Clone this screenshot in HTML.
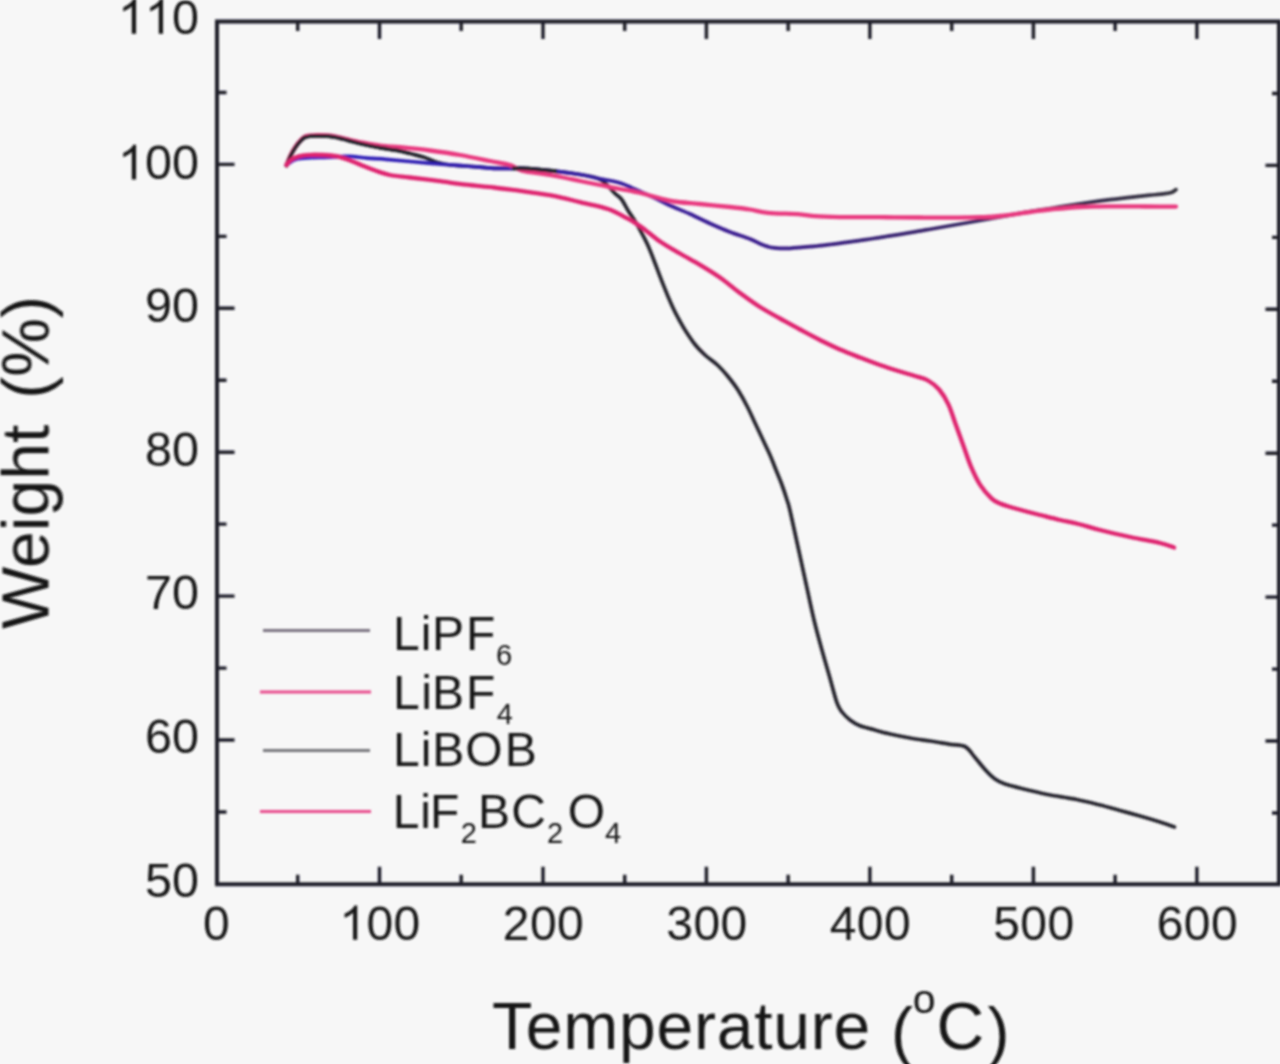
<!DOCTYPE html>
<html><head><meta charset="utf-8"><title>TGA</title>
<style>html,body{margin:0;padding:0;background:#f7f7f7;width:1280px;height:1064px;overflow:hidden}svg{display:block}text{font-family:"Liberation Sans",sans-serif}</style>
</head><body>
<svg width="1280" height="1064" viewBox="0 0 1280 1064">
<rect width="1280" height="1064" fill="#f7f7f7"/>
<filter id="soft" filterUnits="userSpaceOnUse" x="-20" y="-20" width="1320" height="1104"><feGaussianBlur stdDeviation="1.0"/></filter>
<g filter="url(#soft)">
<defs><linearGradient id="gb" gradientUnits="userSpaceOnUse" x1="286" y1="0" x2="1176" y2="0"><stop offset="0" stop-color="#2a1fc0"/><stop offset="0.5" stop-color="#3a1a90"/><stop offset="1" stop-color="#33303a"/></linearGradient><clipPath id="cpa"><rect x="280" y="100" width="130" height="80"/><rect x="512" y="150" width="45" height="40"/></clipPath></defs>
<g fill="none" stroke-width="3.7" stroke-linejoin="round" stroke-linecap="round">
<path d="M286.5,165.5 C287.2,163.8 289.4,158.2 291.0,155.0 C292.6,151.8 294.4,148.8 296.0,146.5 C297.6,144.2 299.1,142.5 300.5,141.0 C301.9,139.5 302.9,138.3 304.5,137.5 C306.1,136.7 307.8,136.5 310.0,136.2 C312.2,135.9 314.2,135.9 317.5,135.9 C320.8,135.9 326.4,135.9 330.0,136.3 C333.6,136.7 336.3,137.4 339.4,138.1 C342.5,138.8 345.1,139.7 348.8,140.6 C352.4,141.5 356.8,142.7 361.0,143.7 C365.2,144.7 369.2,145.6 373.8,146.5 C378.2,147.4 383.6,148.2 388.0,149.0 C392.4,149.8 396.0,150.2 400.0,151.0 C404.0,151.8 408.0,153.0 412.0,154.0 C416.0,155.0 420.0,155.9 424.0,157.2 C428.0,158.5 431.7,160.7 436.0,162.0 C440.3,163.3 445.0,164.3 450.0,165.0 C455.0,165.7 458.7,165.4 466.0,166.0 C473.3,166.6 484.7,167.9 494.0,168.3 C503.3,168.7 512.7,168.0 522.0,168.4 C531.3,168.8 540.3,169.6 550.0,170.6 C559.7,171.6 572.0,173.2 580.0,174.5 C588.0,175.8 593.7,176.9 598.0,178.5 C602.3,180.1 603.2,181.5 606.0,184.0 C608.8,186.5 612.5,191.0 615.0,193.5 C617.5,196.0 619.0,196.0 621.3,199.0 C623.6,202.0 626.2,207.6 628.6,211.4 C631.0,215.2 633.2,218.0 635.4,221.6 C637.6,225.2 639.4,228.8 641.6,232.9 C643.8,237.0 646.4,241.9 648.4,246.4 C650.4,250.9 651.3,253.6 653.8,260.0 C656.3,266.4 660.1,276.8 663.2,284.6 C666.3,292.5 670.0,301.3 672.6,307.1 C675.2,312.9 676.9,315.7 679.0,319.5 C681.1,323.3 682.3,325.8 685.0,330.0 C687.7,334.2 691.7,340.3 695.0,344.5 C698.3,348.7 701.2,351.5 705.0,355.0 C708.8,358.5 714.2,361.9 718.0,365.5 C721.8,369.1 724.7,372.4 728.0,376.5 C731.3,380.6 734.8,384.9 738.0,390.0 C741.2,395.1 744.6,401.3 747.5,407.0 C750.4,412.7 752.9,418.5 755.5,424.0 C758.1,429.5 760.6,434.8 763.0,440.0 C765.4,445.2 767.8,450.0 770.0,455.0 C772.2,460.0 774.0,465.0 776.0,470.0 C778.0,475.0 780.2,480.0 782.0,485.0 C783.8,490.0 785.5,495.0 787.0,500.0 C788.5,505.0 787.7,500.3 791.0,515.0 C794.3,529.7 803.1,570.4 807.0,588.2 C810.9,606.0 812.0,611.7 814.5,622.0 C817.0,632.3 819.5,641.1 822.0,650.2 C824.5,659.3 827.0,667.7 829.5,676.5 C832.0,685.3 834.9,697.0 837.0,702.9 C839.1,708.8 839.8,709.1 842.0,712.0 C844.2,714.9 847.0,717.7 850.0,720.0 C853.0,722.3 855.8,724.1 860.0,725.8 C864.2,727.5 870.0,728.6 875.0,730.0 C880.0,731.4 884.2,732.7 890.0,734.0 C895.8,735.3 903.3,736.8 910.0,738.0 C916.7,739.2 923.3,740.0 930.0,741.0 C936.7,742.0 944.2,743.4 950.0,744.3 C955.8,745.2 960.8,744.3 965.0,746.5 C969.2,748.7 971.7,753.7 975.0,757.5 C978.3,761.3 981.7,765.9 985.0,769.5 C988.3,773.1 991.7,776.6 995.0,779.0 C998.3,781.4 1000.8,782.5 1005.0,784.0 C1009.2,785.5 1014.5,786.6 1020.0,788.0 C1025.5,789.4 1032.7,791.1 1037.7,792.3 C1042.7,793.5 1043.5,793.8 1050.0,795.0 C1056.5,796.2 1068.4,797.8 1076.7,799.5 C1085.0,801.2 1092.8,803.2 1100.0,805.0 C1107.2,806.8 1113.3,808.7 1120.0,810.5 C1126.7,812.3 1133.3,814.1 1140.0,816.0 C1146.7,817.9 1154.3,820.2 1160.0,822.0 C1165.7,823.8 1172.0,826.2 1174.4,827.0" stroke="#24202c"/>
<path d="M286.5,165.0 C287.4,164.3 290.1,162.0 292.0,161.0 C293.9,160.0 294.8,159.4 298.0,158.8 C301.2,158.2 306.7,157.8 311.0,157.6 C315.3,157.4 319.8,157.5 324.0,157.4 C328.2,157.3 331.8,157.2 336.0,157.0 C340.2,156.8 343.8,156.1 349.0,156.3 C354.2,156.5 361.3,157.6 367.5,158.1 C373.7,158.6 378.9,158.7 386.0,159.3 C393.1,159.9 401.3,160.7 410.0,161.5 C418.7,162.3 428.7,163.2 438.0,164.0 C447.3,164.8 456.7,165.3 466.0,166.0 C475.3,166.7 484.7,167.9 494.0,168.3 C503.3,168.7 512.7,168.0 522.0,168.4 C531.3,168.8 540.3,169.6 550.0,170.6 C559.7,171.6 571.7,173.1 580.0,174.5 C588.3,175.9 593.3,177.4 600.0,178.8 C606.7,180.2 613.3,180.9 620.0,183.0 C626.7,185.1 634.2,189.0 640.0,191.5 C645.8,194.0 650.0,195.7 655.0,198.0 C660.0,200.3 664.2,202.8 670.0,205.5 C675.8,208.2 683.3,211.0 690.0,214.0 C696.7,217.0 703.3,220.5 710.0,223.5 C716.7,226.5 723.3,229.4 730.0,232.0 C736.7,234.6 745.0,237.0 750.0,239.0 C755.0,241.0 756.7,242.4 760.0,243.8 C763.3,245.2 766.7,246.4 770.0,247.2 C773.3,247.9 776.7,248.1 780.0,248.3 C783.3,248.5 785.0,248.6 790.0,248.3 C795.0,248.0 803.3,247.3 810.0,246.7 C816.7,246.1 823.3,245.3 830.0,244.5 C836.7,243.7 843.3,242.8 850.0,241.9 C856.7,241.0 863.3,240.0 870.0,239.0 C876.7,238.0 883.3,237.0 890.0,235.9 C896.7,234.8 903.3,233.8 910.0,232.7 C916.7,231.6 923.3,230.4 930.0,229.2 C936.7,228.0 943.3,226.9 950.0,225.7 C956.7,224.5 963.3,223.4 970.0,222.2 C976.7,221.0 983.3,219.8 990.0,218.6 C996.7,217.4 1003.3,216.3 1010.0,215.1 C1016.7,213.9 1023.3,212.7 1030.0,211.6 C1036.7,210.5 1043.3,209.5 1050.0,208.5 C1056.7,207.5 1063.3,206.4 1070.0,205.4 C1076.7,204.4 1083.3,203.4 1090.0,202.4 C1096.7,201.4 1103.3,200.5 1110.0,199.7 C1116.7,198.8 1123.3,198.1 1130.0,197.3 C1136.7,196.6 1144.2,195.8 1150.0,195.2 C1155.8,194.6 1161.3,194.1 1165.0,193.6 C1168.7,193.1 1170.2,192.9 1172.0,192.2 C1173.8,191.5 1175.3,190.0 1176.0,189.6" stroke="url(#gb)"/>
<path d="M286.5,165.0 C287.2,163.2 289.4,157.7 291.0,154.5 C292.6,151.3 294.4,148.3 296.0,146.0 C297.6,143.7 299.1,142.0 300.5,140.5 C301.9,139.0 302.9,137.6 304.5,136.8 C306.1,136.0 307.8,135.9 310.0,135.6 C312.2,135.3 314.2,135.2 317.5,135.2 C320.8,135.2 326.4,135.2 330.0,135.6 C333.6,136.0 336.3,136.7 339.4,137.4 C342.5,138.1 345.1,138.9 348.8,139.7 C352.4,140.5 356.8,141.5 361.0,142.3 C365.2,143.1 369.2,143.9 373.8,144.6 C378.2,145.3 383.6,145.9 388.0,146.3 C392.4,146.7 393.0,146.5 400.0,147.2 C407.0,147.9 420.0,149.2 430.0,150.5 C440.0,151.8 450.0,153.2 460.0,155.0 C470.0,156.8 481.7,159.3 490.0,161.0 C498.3,162.7 504.7,163.4 510.0,165.0 C515.3,166.6 515.3,168.9 522.0,170.6 C528.7,172.3 540.3,173.3 550.0,175.0 C559.7,176.7 571.7,179.3 580.0,181.0 C588.3,182.7 593.3,183.7 600.0,185.0 C606.7,186.3 613.6,187.8 620.0,189.0 C626.4,190.2 631.4,190.9 638.2,192.5 C645.0,194.1 654.8,197.0 660.8,198.5 C666.8,200.0 667.5,200.6 674.0,201.5 C680.5,202.4 690.7,203.1 700.0,204.0 C709.3,204.9 721.7,206.1 730.0,207.0 C738.3,207.9 743.7,208.5 750.0,209.5 C756.3,210.5 759.7,212.0 768.0,212.8 C776.3,213.6 792.2,213.7 800.0,214.3 C807.8,214.9 808.3,215.7 815.0,216.2 C821.7,216.7 829.2,216.9 840.0,217.1 C850.8,217.3 866.7,217.1 880.0,217.2 C893.3,217.3 908.3,217.4 920.0,217.5 C931.7,217.6 940.0,217.7 950.0,217.6 C960.0,217.5 971.7,217.5 980.0,217.2 C988.3,216.9 991.7,216.9 1000.0,216.0 C1008.3,215.1 1021.7,213.1 1030.0,212.0 C1038.3,210.9 1041.7,210.3 1050.0,209.5 C1058.3,208.7 1070.0,207.5 1080.0,207.0 C1090.0,206.5 1101.5,206.4 1110.0,206.3 C1118.5,206.2 1122.7,206.4 1131.0,206.4 C1139.3,206.4 1152.5,206.6 1160.0,206.6 C1167.5,206.6 1173.3,206.6 1176.0,206.6" stroke="#e8387e" stroke-width="4.3"/>
<path d="M286.5,165.5 C287.2,163.8 289.4,158.2 291.0,155.0 C292.6,151.8 294.4,148.8 296.0,146.5 C297.6,144.2 299.1,142.5 300.5,141.0 C301.9,139.5 302.9,138.3 304.5,137.5 C306.1,136.7 307.8,136.5 310.0,136.2 C312.2,135.9 314.2,135.9 317.5,135.9 C320.8,135.9 326.4,135.9 330.0,136.3 C333.6,136.7 336.3,137.4 339.4,138.1 C342.5,138.8 345.1,139.7 348.8,140.6 C352.4,141.5 356.8,142.7 361.0,143.7 C365.2,144.7 369.2,145.6 373.8,146.5 C378.2,147.4 383.6,148.2 388.0,149.0 C392.4,149.8 396.0,150.2 400.0,151.0 C404.0,151.8 408.0,153.0 412.0,154.0 C416.0,155.0 420.0,155.9 424.0,157.2 C428.0,158.5 431.7,160.7 436.0,162.0 C440.3,163.3 445.0,164.3 450.0,165.0 C455.0,165.7 458.7,165.4 466.0,166.0 C473.3,166.6 484.7,167.9 494.0,168.3 C503.3,168.7 512.7,168.0 522.0,168.4 C531.3,168.8 540.3,169.6 550.0,170.6 C559.7,171.6 572.0,173.2 580.0,174.5 C588.0,175.8 593.7,176.9 598.0,178.5 C602.3,180.1 603.2,181.5 606.0,184.0 C608.8,186.5 612.5,191.0 615.0,193.5 C617.5,196.0 619.0,196.0 621.3,199.0 C623.6,202.0 626.2,207.6 628.6,211.4 C631.0,215.2 633.2,218.0 635.4,221.6 C637.6,225.2 639.4,228.8 641.6,232.9 C643.8,237.0 646.4,241.9 648.4,246.4 C650.4,250.9 651.3,253.6 653.8,260.0 C656.3,266.4 660.1,276.8 663.2,284.6 C666.3,292.5 670.0,301.3 672.6,307.1 C675.2,312.9 676.9,315.7 679.0,319.5 C681.1,323.3 682.3,325.8 685.0,330.0 C687.7,334.2 691.7,340.3 695.0,344.5 C698.3,348.7 701.2,351.5 705.0,355.0 C708.8,358.5 714.2,361.9 718.0,365.5 C721.8,369.1 724.7,372.4 728.0,376.5 C731.3,380.6 734.8,384.9 738.0,390.0 C741.2,395.1 744.6,401.3 747.5,407.0 C750.4,412.7 752.9,418.5 755.5,424.0 C758.1,429.5 760.6,434.8 763.0,440.0 C765.4,445.2 767.8,450.0 770.0,455.0 C772.2,460.0 774.0,465.0 776.0,470.0 C778.0,475.0 780.2,480.0 782.0,485.0 C783.8,490.0 785.5,495.0 787.0,500.0 C788.5,505.0 787.7,500.3 791.0,515.0 C794.3,529.7 803.1,570.4 807.0,588.2 C810.9,606.0 812.0,611.7 814.5,622.0 C817.0,632.3 819.5,641.1 822.0,650.2 C824.5,659.3 827.0,667.7 829.5,676.5 C832.0,685.3 834.9,697.0 837.0,702.9 C839.1,708.8 839.8,709.1 842.0,712.0 C844.2,714.9 847.0,717.7 850.0,720.0 C853.0,722.3 855.8,724.1 860.0,725.8 C864.2,727.5 870.0,728.6 875.0,730.0 C880.0,731.4 884.2,732.7 890.0,734.0 C895.8,735.3 903.3,736.8 910.0,738.0 C916.7,739.2 923.3,740.0 930.0,741.0 C936.7,742.0 944.2,743.4 950.0,744.3 C955.8,745.2 960.8,744.3 965.0,746.5 C969.2,748.7 971.7,753.7 975.0,757.5 C978.3,761.3 981.7,765.9 985.0,769.5 C988.3,773.1 991.7,776.6 995.0,779.0 C998.3,781.4 1000.8,782.5 1005.0,784.0 C1009.2,785.5 1014.5,786.6 1020.0,788.0 C1025.5,789.4 1032.7,791.1 1037.7,792.3 C1042.7,793.5 1043.5,793.8 1050.0,795.0 C1056.5,796.2 1068.4,797.8 1076.7,799.5 C1085.0,801.2 1092.8,803.2 1100.0,805.0 C1107.2,806.8 1113.3,808.7 1120.0,810.5 C1126.7,812.3 1133.3,814.1 1140.0,816.0 C1146.7,817.9 1154.3,820.2 1160.0,822.0 C1165.7,823.8 1172.0,826.2 1174.4,827.0" stroke="#24202c" clip-path="url(#cpa)"/>
<path d="M286.5,165.0 C287.2,164.2 289.0,161.4 291.0,160.0 C293.0,158.6 295.4,157.2 298.8,156.3 C302.1,155.4 306.8,155.0 311.0,154.8 C315.2,154.6 319.8,154.8 324.0,155.0 C328.2,155.2 331.9,155.4 336.0,156.2 C340.1,157.0 344.6,158.5 348.8,160.0 C352.9,161.5 356.8,163.3 361.0,165.0 C365.2,166.7 368.9,168.3 373.8,170.0 C378.6,171.7 384.0,173.8 390.0,175.0 C396.0,176.2 402.0,176.5 410.0,177.5 C418.0,178.5 428.7,179.7 438.0,180.9 C447.3,182.1 456.7,183.6 466.0,184.7 C475.3,185.8 484.7,186.4 494.0,187.5 C503.3,188.6 512.0,189.9 522.0,191.2 C532.0,192.6 544.0,194.0 553.7,195.8 C563.4,197.6 571.0,200.0 580.0,202.2 C589.0,204.4 600.2,206.3 608.0,209.0 C615.8,211.7 621.4,215.2 626.9,218.2 C632.4,221.1 635.5,222.8 641.0,226.7 C646.5,230.6 653.5,237.0 660.0,241.5 C666.5,246.0 673.3,249.6 680.0,253.5 C686.7,257.4 693.3,260.8 700.0,264.8 C706.7,268.8 713.3,272.8 720.0,277.5 C726.7,282.2 733.3,288.1 740.0,293.0 C746.7,297.9 753.3,302.8 760.0,307.0 C766.7,311.2 773.3,314.8 780.0,318.5 C786.7,322.2 793.3,325.9 800.0,329.5 C806.7,333.1 813.3,336.7 820.0,340.0 C826.7,343.3 833.3,346.6 840.0,349.5 C846.7,352.4 853.3,354.9 860.0,357.5 C866.7,360.1 873.3,362.7 880.0,365.0 C886.7,367.3 894.2,369.7 900.0,371.5 C905.8,373.3 910.3,374.5 915.0,376.0 C919.7,377.5 924.0,378.2 928.0,380.5 C932.0,382.8 935.7,385.5 939.1,389.5 C942.5,393.5 945.7,398.6 948.5,404.6 C951.3,410.6 953.5,418.4 956.0,425.3 C958.5,432.2 961.0,439.1 963.5,446.0 C966.0,452.9 968.2,460.0 971.0,466.6 C973.8,473.2 977.0,480.1 980.5,485.4 C984.0,490.7 988.5,495.6 991.7,498.6 C995.0,501.6 996.5,502.0 1000.0,503.5 C1003.5,505.0 1006.1,505.8 1012.8,507.7 C1019.5,509.6 1032.1,513.0 1040.0,515.0 C1047.9,517.0 1053.6,518.5 1060.0,520.0 C1066.4,521.5 1071.7,522.3 1078.4,524.0 C1085.1,525.7 1091.4,527.8 1100.0,530.0 C1108.6,532.2 1120.0,534.8 1130.0,537.0 C1140.0,539.2 1152.7,541.2 1160.0,543.0 C1167.3,544.8 1171.7,546.8 1174.0,547.5" stroke="#de246e" stroke-width="4.3"/>
</g>
<g stroke="#1c1c26" stroke-width="4.0" fill="none" stroke-linecap="butt">
<path d="M217.0,21.5 L217.0,884.3 L1279.0,884.3 L1279.0,21.5 Z" stroke-linejoin="miter"/>
<path stroke-width="3.4" d="M297.7,884.3 V874.8 M297.7,21.5 V31.0"/>
<path stroke-width="3.4" d="M379.5,884.3 V866.8 M379.5,21.5 V39.0"/>
<path stroke-width="3.4" d="M461.2,884.3 V874.8 M461.2,21.5 V31.0"/>
<path stroke-width="3.4" d="M543.0,884.3 V866.8 M543.0,21.5 V39.0"/>
<path stroke-width="3.4" d="M624.7,884.3 V874.8 M624.7,21.5 V31.0"/>
<path stroke-width="3.4" d="M706.4,884.3 V866.8 M706.4,21.5 V39.0"/>
<path stroke-width="3.4" d="M788.2,884.3 V874.8 M788.2,21.5 V31.0"/>
<path stroke-width="3.4" d="M869.9,884.3 V866.8 M869.9,21.5 V39.0"/>
<path stroke-width="3.4" d="M951.7,884.3 V874.8 M951.7,21.5 V31.0"/>
<path stroke-width="3.4" d="M1033.4,884.3 V866.8 M1033.4,21.5 V39.0"/>
<path stroke-width="3.4" d="M1115.1,884.3 V874.8 M1115.1,21.5 V31.0"/>
<path stroke-width="3.4" d="M1196.9,884.3 V866.8 M1196.9,21.5 V39.0"/>
<path stroke-width="3.4" d="M217.0,812.0 H226.5 M1279.0,813.0 H1272.0"/>
<path stroke-width="3.4" d="M217.0,740.0 H234.5 M1279.0,741.0 H1265.5"/>
<path stroke-width="3.4" d="M217.0,668.1 H226.5 M1279.0,669.1 H1272.0"/>
<path stroke-width="3.4" d="M217.0,596.1 H234.5 M1279.0,597.1 H1265.5"/>
<path stroke-width="3.4" d="M217.0,524.1 H226.5 M1279.0,525.1 H1272.0"/>
<path stroke-width="3.4" d="M217.0,452.2 H234.5 M1279.0,453.2 H1265.5"/>
<path stroke-width="3.4" d="M217.0,380.2 H226.5 M1279.0,381.2 H1272.0"/>
<path stroke-width="3.4" d="M217.0,308.3 H234.5 M1279.0,309.3 H1265.5"/>
<path stroke-width="3.4" d="M217.0,236.4 H226.5 M1279.0,237.4 H1272.0"/>
<path stroke-width="3.4" d="M217.0,164.4 H234.5 M1279.0,165.4 H1265.5"/>
<path stroke-width="3.4" d="M217.0,92.5 H226.5 M1279.0,93.5 H1272.0"/>
</g>
<text x="144.95" y="897.20" font-size="48.5" font-family="Liberation Sans, sans-serif" fill="#151515">5</text>
<text x="171.93" y="897.20" font-size="48.5" font-family="Liberation Sans, sans-serif" fill="#151515">0</text>
<text x="144.95" y="753.30" font-size="48.5" font-family="Liberation Sans, sans-serif" fill="#151515">6</text>
<text x="171.93" y="753.30" font-size="48.5" font-family="Liberation Sans, sans-serif" fill="#151515">0</text>
<text x="144.95" y="609.40" font-size="48.5" font-family="Liberation Sans, sans-serif" fill="#151515">7</text>
<text x="171.93" y="609.40" font-size="48.5" font-family="Liberation Sans, sans-serif" fill="#151515">0</text>
<text x="144.95" y="465.50" font-size="48.5" font-family="Liberation Sans, sans-serif" fill="#151515">8</text>
<text x="171.93" y="465.50" font-size="48.5" font-family="Liberation Sans, sans-serif" fill="#151515">0</text>
<text x="144.95" y="321.60" font-size="48.5" font-family="Liberation Sans, sans-serif" fill="#151515">9</text>
<text x="171.93" y="321.60" font-size="48.5" font-family="Liberation Sans, sans-serif" fill="#151515">0</text>
<path d="M131.80,179.40L136.07,179.40L136.07,144.67L133.31,144.67C131.80,147.63 129.13,150.30 123.27,153.06L123.27,157.19C126.71,155.88 130.10,153.69 131.80,151.95Z" fill="#151515"/>
<text x="144.95" y="179.40" font-size="48.5" font-family="Liberation Sans, sans-serif" fill="#151515">0</text>
<text x="171.93" y="179.40" font-size="48.5" font-family="Liberation Sans, sans-serif" fill="#151515">0</text>
<path d="M131.80,33.80L136.07,33.80L136.07,-0.93L133.31,-0.93C131.80,2.03 129.13,4.70 123.27,7.46L123.27,11.59C126.71,10.28 130.10,8.09 131.80,6.35Z" fill="#151515"/>
<path d="M158.78,33.80L163.04,33.80L163.04,-0.93L160.28,-0.93C158.78,2.03 156.11,4.70 150.24,7.46L150.24,11.59C153.68,10.28 157.08,8.09 158.78,6.35Z" fill="#151515"/>
<text x="171.93" y="33.80" font-size="48.5" font-family="Liberation Sans, sans-serif" fill="#151515">0</text>
<text x="202.95" y="939.80" font-size="48" font-family="Liberation Sans, sans-serif" fill="#151515">0</text>
<path d="M353.02,939.80L357.24,939.80L357.24,905.43L354.51,905.43C353.02,908.36 350.38,911.00 344.57,913.74L344.57,917.82C347.98,916.52 351.34,914.36 353.02,912.63Z" fill="#151515"/>
<text x="366.43" y="939.80" font-size="48" font-family="Liberation Sans, sans-serif" fill="#151515">0</text>
<text x="393.53" y="939.80" font-size="48" font-family="Liberation Sans, sans-serif" fill="#151515">0</text>
<text x="502.82" y="939.80" font-size="48" font-family="Liberation Sans, sans-serif" fill="#151515">2</text>
<text x="529.91" y="939.80" font-size="48" font-family="Liberation Sans, sans-serif" fill="#151515">0</text>
<text x="557.01" y="939.80" font-size="48" font-family="Liberation Sans, sans-serif" fill="#151515">0</text>
<text x="666.30" y="939.80" font-size="48" font-family="Liberation Sans, sans-serif" fill="#151515">3</text>
<text x="693.39" y="939.80" font-size="48" font-family="Liberation Sans, sans-serif" fill="#151515">0</text>
<text x="720.49" y="939.80" font-size="48" font-family="Liberation Sans, sans-serif" fill="#151515">0</text>
<text x="829.78" y="939.80" font-size="48" font-family="Liberation Sans, sans-serif" fill="#151515">4</text>
<text x="856.87" y="939.80" font-size="48" font-family="Liberation Sans, sans-serif" fill="#151515">0</text>
<text x="883.97" y="939.80" font-size="48" font-family="Liberation Sans, sans-serif" fill="#151515">0</text>
<text x="993.26" y="939.80" font-size="48" font-family="Liberation Sans, sans-serif" fill="#151515">5</text>
<text x="1020.35" y="939.80" font-size="48" font-family="Liberation Sans, sans-serif" fill="#151515">0</text>
<text x="1047.45" y="939.80" font-size="48" font-family="Liberation Sans, sans-serif" fill="#151515">0</text>
<text x="1156.74" y="939.80" font-size="48" font-family="Liberation Sans, sans-serif" fill="#151515">6</text>
<text x="1183.83" y="939.80" font-size="48" font-family="Liberation Sans, sans-serif" fill="#151515">0</text>
<text x="1210.93" y="939.80" font-size="48" font-family="Liberation Sans, sans-serif" fill="#151515">0</text>
<text font-family="Liberation Sans, sans-serif" fill="#151515" font-size="66" x="492.1" y="1048.5" textLength="378.1">Temperature</text>
<text font-family="Liberation Sans, sans-serif" fill="#151515" font-size="66" x="890.9" y="1053.5">(</text>
<text font-family="Liberation Sans, sans-serif" fill="#151515" font-size="41" x="912.8" y="1012.6">o</text>
<text font-family="Liberation Sans, sans-serif" fill="#151515" font-size="66" x="936.6" y="1048.5">C</text>
<text font-family="Liberation Sans, sans-serif" fill="#151515" font-size="66" x="987.6" y="1053.5">)</text>
<text font-family="Liberation Sans, sans-serif" fill="#151515" font-size="66" transform="translate(48.5,629) rotate(-90)">Weight<tspan dx="26">(%)</tspan></text>
<g font-family="Liberation Sans, sans-serif" fill="#151515">
<text x="393.1" y="650.3" font-size="48">L</text>
<text x="420.8" y="650.3" font-size="48">i</text>
<text x="432.1" y="650.3" font-size="48">P</text>
<text x="466.1" y="650.3" font-size="48">F</text>
<text x="496.0" y="664.8" font-size="29">6</text>
<text x="393.1" y="709.0" font-size="48">L</text>
<text x="421.3" y="709.0" font-size="48">i</text>
<text x="432.1" y="709.0" font-size="48">B</text>
<text x="466.1" y="709.0" font-size="48">F</text>
<text x="496.8" y="723.5" font-size="29">4</text>
<text x="393.0" y="766.0" font-size="48">L</text>
<text x="420.7" y="766.0" font-size="48">i</text>
<text x="432.3" y="766.0" font-size="48">B</text>
<text x="465.2" y="766.0" font-size="48">O</text>
<text x="504.8" y="766.0" font-size="48">B</text>
<text x="392.7" y="828.2" font-size="48">L</text>
<text x="420.3" y="828.2" font-size="48">i</text>
<text x="430.1" y="828.2" font-size="48">F</text>
<text x="460.8" y="842.7" font-size="29">2</text>
<text x="478.0" y="828.2" font-size="48">B</text>
<text x="511.3" y="828.2" font-size="48">C</text>
<text x="546.9" y="842.7" font-size="29">2</text>
<text x="567.7" y="828.2" font-size="48">O</text>
<text x="604.9" y="842.7" font-size="29">4</text>
</g>
<g stroke-width="3.2" fill="none">
<path d="M263,630.5 H370" stroke="#7a7280"/>
<path d="M260,692 H371" stroke="#e84c8c"/>
<path d="M263,750.5 H370" stroke="#76767c"/>
<path d="M260,811.5 H371" stroke="#e84c8c"/>
</g>
</g>
</svg>
</body></html>
